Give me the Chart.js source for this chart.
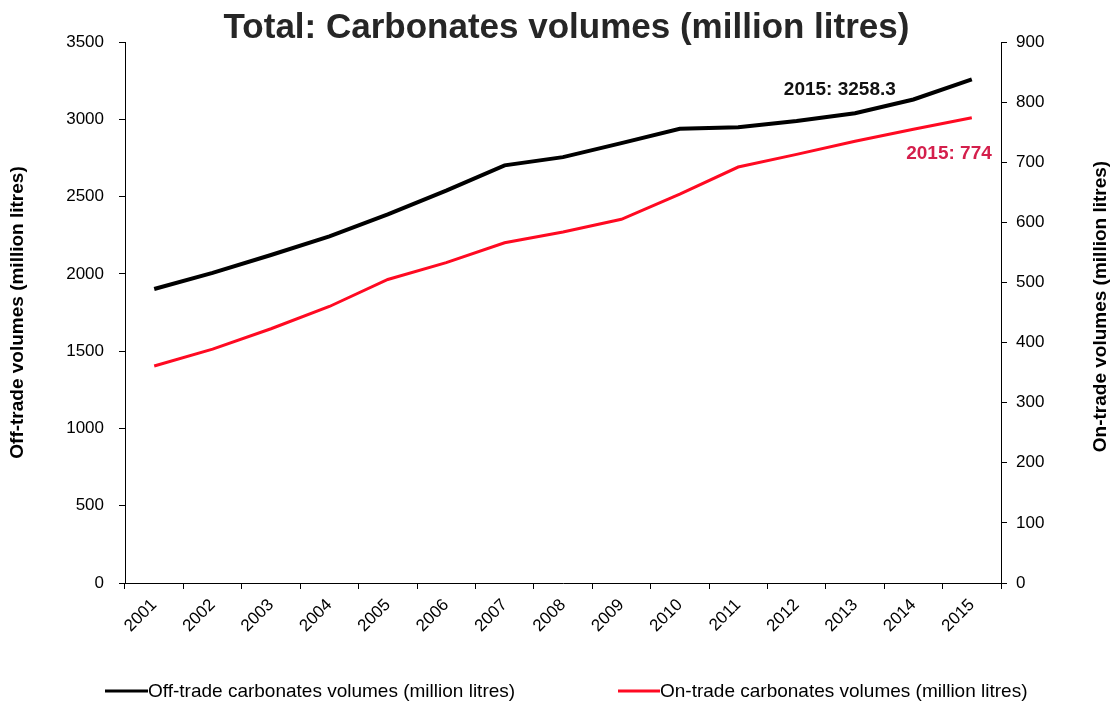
<!DOCTYPE html>
<html>
<head>
<meta charset="utf-8">
<title>Total: Carbonates volumes (million litres)</title>
<script src="https://cdn.jsdelivr.net/npm/chart.js@4/dist/chart.umd.min.js"></script>
<style>
  html, body { margin: 0; padding: 0; background: #fff; }
  #wrap { width: 1117px; height: 708px; position: relative; }
</style>
</head>
<body>
<div id="wrap"><canvas id="c" width="1117" height="708"></canvas></div>
<script>
// Years on the category axis
const years = ['2001','2002','2003','2004','2005','2006','2007','2008','2009','2010','2011','2012','2013','2014','2015'];

// Off-trade carbonates volumes (million litres), left axis
const offTrade = [1902, 2006, 2122, 2243, 2385, 2538, 2702, 2755, 2846, 2939, 2948, 2989, 3039, 3128, 3258.3];

// On-trade carbonates volumes (million litres), right axis
const onTrade = [361, 389, 423, 460, 505, 533, 566, 584, 605, 647, 692, 713, 735, 755, 774];

// Axis tick values
const offTicks = [0, 500, 1000, 1500, 2000, 2500, 3000, 3500];
const onTicks = [0, 100, 200, 300, 400, 500, 600, 700, 800, 900];

const seriesNames = [
  'Off-trade carbonates volumes (million litres)',
  'On-trade carbonates volumes (million litres)'
];
const rightAxisTitle = 'On-trade volumes (million litres)';

const FONT = "'Liberation Sans', Arial, Helvetica, sans-serif";
Chart.defaults.font.family = FONT;
Chart.defaults.color = '#000';

// Legend drawn as a line sample followed directly by the series name
const lineLegend = {
  id: 'lineLegend',
  afterDraw(chart) {
    const ctx = chart.ctx;
    const starts = [105, 618];
    const sample = [43, 42];
    const y = 691;
    ctx.save();
    ctx.font = '19px ' + FONT;
    ctx.textBaseline = 'middle';
    ctx.textAlign = 'left';
    chart.data.datasets.forEach((ds, i) => {
      ctx.strokeStyle = ds.borderColor;
      ctx.lineWidth = 3;
      ctx.beginPath();
      ctx.moveTo(starts[i], y);
      ctx.lineTo(starts[i] + sample[i], y);
      ctx.stroke();
      ctx.fillStyle = '#000';
      ctx.fillText(ds.label, starts[i] + sample[i], y + 1);
    });
    ctx.restore();
  }
};

// Right axis title, reading bottom to top like the left one
const rightTitle = {
  id: 'rightTitle',
  afterDraw(chart) {
    const ctx = chart.ctx;
    const a = chart.chartArea;
    ctx.save();
    ctx.translate(1101, (a.top + a.bottom) / 2 - 6);
    ctx.rotate(-Math.PI / 2);
    ctx.font = 'bold 19px ' + FONT;
    ctx.textAlign = 'center';
    ctx.textBaseline = 'middle';
    ctx.fillStyle = '#000';
    ctx.fillText(rightAxisTitle, 0, 0);
    ctx.restore();
  }
};

// Final-year value callouts next to each line
const endLabels = {
  id: 'endLabels',
  afterDatasetsDraw(chart) {
    const ctx = chart.ctx;
    const last = years.length - 1;
    const px = chart.scales.x.getPixelForValue(last);
    ctx.save();
    ctx.font = 'bold 19px ' + FONT;
    ctx.textBaseline = 'middle';
    ctx.textAlign = 'right';

    const yOff = chart.scales.y.getPixelForValue(offTrade[last]);
    ctx.fillStyle = '#111';
    ctx.fillText(years[last] + ': ' + offTrade[last], px - 76, yOff + 10);

    const yOn = chart.scales.y1.getPixelForValue(onTrade[last]);
    ctx.fillStyle = '#d41f4c';
    ctx.fillText(years[last] + ': ' + onTrade[last], px + 20, yOn + 36);
    ctx.restore();
  }
};

new Chart(document.getElementById('c'), {
  type: 'line',
  data: {
    labels: years,
    datasets: [
      {
        label: seriesNames[0],
        data: offTrade,
        yAxisID: 'y',
        borderColor: '#000000',
        backgroundColor: '#000000',
        borderWidth: 4,
        pointRadius: 0,
        tension: 0
      },
      {
        label: seriesNames[1],
        data: onTrade,
        yAxisID: 'y1',
        borderColor: '#ff0a22',
        backgroundColor: '#ff0a22',
        borderWidth: 3,
        pointRadius: 0,
        tension: 0
      }
    ]
  },
  options: {
    responsive: false,
    animation: false,
    layout: { padding: { left: 16, right: 0, top: 0, bottom: 40 } },
    plugins: {
      legend: { display: false },
      tooltip: { enabled: false },
      title: {
        display: true,
        text: 'Total: Carbonates volumes (million litres)',
        color: '#262626',
        font: { size: 35, weight: 'bold', family: FONT, lineHeight: 0.8 },
        padding: { top: 14, bottom: 0 }
      }
    },
    scales: {
      x: {
        type: 'category',
        offset: true,
        grid: {
          display: true,
          offset: true,
          drawOnChartArea: false,
          drawTicks: true,
          tickLength: 6,
          color: '#000'
        },
        border: { display: true, color: '#000', width: 1 },
        ticks: {
          autoSkip: false,
          maxRotation: 45,
          minRotation: 45,
          padding: 6,
          color: '#000',
          font: { size: 17, family: FONT }
        },
        afterFit(s) { s.height = 85; }
      },
      y: {
        position: 'left',
        min: 0,
        max: 3500,
        afterBuildTicks(s) { s.ticks = offTicks.map(v => ({ value: v })); },
        grid: {
          display: true,
          drawOnChartArea: false,
          drawTicks: true,
          tickLength: 6,
          color: '#000'
        },
        border: { display: true, color: '#000', width: 1 },
        ticks: {
          padding: 15,
          color: '#000',
          font: { size: 17, family: FONT },
          callback: v => String(v)
        },
        title: {
          display: true,
          text: 'Off-trade volumes (million litres)',
          color: '#000',
          font: { size: 19, weight: 'bold', family: FONT, lineHeight: 0.2 },
          padding: { top: 0, bottom: 0 }
        },
        afterFit(s) { s.width = 109; }
      },
      y1: {
        position: 'right',
        min: 0,
        max: 900,
        afterBuildTicks(s) { s.ticks = onTicks.map(v => ({ value: v })); },
        grid: {
          display: true,
          drawOnChartArea: false,
          drawTicks: true,
          tickLength: 6,
          color: '#000'
        },
        border: { display: true, color: '#000', width: 1 },
        ticks: {
          padding: 9,
          color: '#000',
          font: { size: 17, family: FONT },
          callback: v => String(v)
        },
        title: { display: false },
        afterFit(s) { s.width = 116; }
      }
    }
  },
  plugins: [lineLegend, rightTitle, endLabels]
});
</script>
</body>
</html>
